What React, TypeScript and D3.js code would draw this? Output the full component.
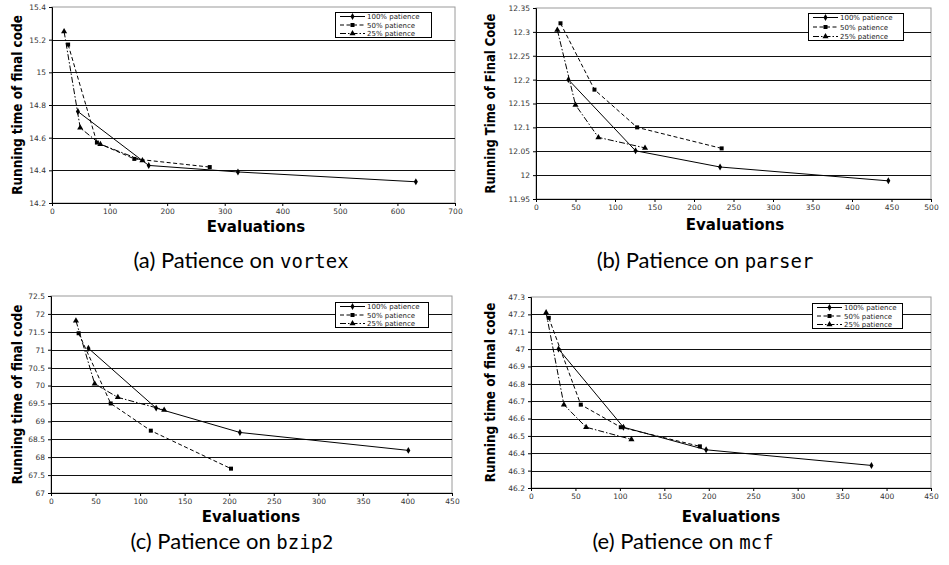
import React, { useEffect, useRef } from 'react'
import * as d3 from 'd3'

type Pt = [number, number]

const seriesNames = ['100% patience', '50% patience', '25% patience']

// (a) vortex
const vortex100: Pt[] = [[45, 14.76], [168, 14.43], [323, 14.39], [632, 14.33]]
const vortex50: Pt[] = [[28, 15.17], [78, 14.57], [143, 14.47], [274, 14.42]]
const vortex25: Pt[] = [[21, 15.25], [49, 14.66], [84, 14.56], [157, 14.46]]
const vortexX = [0, 100, 200, 300, 400, 500, 600, 700]
const vortexY = [14.2, 14.4, 14.6, 14.8, 15, 15.2, 15.4]

// (b) parser
const parser100: Pt[] = [[41, 12.2], [126, 12.051], [233, 12.017], [446, 11.988]]
const parser50: Pt[] = [[31, 12.318], [74, 12.179], [128, 12.1], [235, 12.056]]
const parser25: Pt[] = [[27, 12.304], [50, 12.147], [79, 12.079], [138, 12.057]]
const parserX = [0, 50, 100, 150, 200, 250, 300, 350, 400, 450, 500]
const parserY = [11.95, 12, 12.05, 12.1, 12.15, 12.2, 12.25, 12.3, 12.35]

// (c) bzip2
const bzip100: Pt[] = [[42, 71.04], [118, 69.37], [212, 68.69], [401, 68.19]]
const bzip50: Pt[] = [[31, 71.46], [67, 69.5], [112, 68.74], [202, 67.68]]
const bzip25: Pt[] = [[28, 71.81], [49, 70.05], [75, 69.67], [127, 69.32]]
const bzipX = [0, 50, 100, 150, 200, 250, 300, 350, 400, 450]
const bzipY = [67, 67.5, 68, 68.5, 69, 69.5, 70, 70.5, 71, 71.5, 72, 72.5]

// (e) mcf
const mcf100: Pt[] = [[31, 47.0], [104, 46.55], [197, 46.42], [383, 46.33]]
const mcf50: Pt[] = [[20, 47.18], [56, 46.68], [101, 46.55], [190, 46.44]]
const mcf25: Pt[] = [[17, 47.21], [37, 46.68], [62, 46.55], [113, 46.48]]
const mcfX = [0, 50, 100, 150, 200, 250, 300, 350, 400, 450]
const mcfY = [46.2, 46.3, 46.4, 46.5, 46.6, 46.7, 46.8, 46.9, 47, 47.1, 47.2, 47.3]

const panels = [
  {
    data: [vortex100, vortex50, vortex25], xt: vortexX, yt: vortexY,
    box: [52, 7, 455, 203], legend: [335, 12, 96, 25],
    ylabel: 'Running time of final code', ylx: 15,
    evalX: 256, evalY: 232, capX: 241, capY: 268, cap: '(a) Patience on ', prog: 'vortex',
  },
  {
    data: [parser100, parser50, parser25], xt: parserX, yt: parserY,
    box: [536, 8, 931, 199], legend: [808, 13, 95, 27],
    ylabel: 'Running Time of Final Code', ylx: 488,
    evalX: 735, evalY: 230, capX: 705, capY: 268, cap: '(b) Patience on ', prog: 'parser',
  },
  {
    data: [bzip100, bzip50, bzip25], xt: bzipX, yt: bzipY,
    box: [51, 296, 452, 493], legend: [335, 302, 93, 25],
    ylabel: 'Running time of final code', ylx: 15,
    evalX: 251, evalY: 522, capX: 232, capY: 549, cap: '(c) Patience on ', prog: 'bzip2',
  },
  {
    data: [mcf100, mcf50, mcf25], xt: mcfX, yt: mcfY,
    box: [531, 297, 931, 488], legend: [812, 303, 90, 25],
    ylabel: 'Running time of final code', ylx: 488,
    evalX: 731, evalY: 522, capX: 683, capY: 549, cap: '(e) Patience on ', prog: 'mcf',
  },
]

const dashes = [null, '4,2.5', '6,2,1.5,2']
const symbols = [d3.symbolDiamond, d3.symbolSquare, d3.symbolTriangle]
const symSizes = [14, 16, 16]

export default function App(): React.ReactElement {
  const ref = useRef<HTMLDivElement>(null)

  useEffect(() => {
    d3.select(ref.current).select('svg').remove()
    const svg = d3
      .select(ref.current)
      .append('svg')
      .attr('width', 949)
      .attr('height', 565)
      .attr('style', 'position:absolute;left:0;top:0;background:#fff')

    panels.forEach((p) => {
      const [l, t, r, b] = p.box
      const x = d3.scaleLinear().domain([p.xt[0], p.xt[p.xt.length - 1]]).range([l, r])
      const y = d3.scaleLinear().domain([p.yt[0], p.yt[p.yt.length - 1]]).range([b, t])
      const g = svg.append('g')

      // plot border
      g.append('rect').attr('x', l).attr('y', t).attr('width', r - l).attr('height', b - t)
        .attr('fill', '#fff').attr('stroke', '#9a9a9a').attr('stroke-width', 1)

      // gridlines
      g.append('g').selectAll('line').data(p.yt.slice(1, -1)).join('line')
        .attr('x1', l).attr('x2', r)
        .attr('y1', (d) => Math.round(y(d)) + 0.5).attr('y2', (d) => Math.round(y(d)) + 0.5)
        .attr('stroke', '#111').attr('stroke-width', 1)

      // axes
      const ya = g.append('g').attr('transform', `translate(${l},0)`)
        .call(d3.axisLeft(y).tickValues(p.yt).tickSize(3).tickPadding(3).tickFormat((d) => String(+(+d).toFixed(2))))
      const xa = g.append('g').attr('transform', `translate(0,${b})`)
        .call(d3.axisBottom(x).tickValues(p.xt).tickSize(3).tickPadding(3).tickFormat((d) => String(d)))
      ;[ya, xa].forEach((a) => {
        a.selectAll('text').attr('font-family', 'DejaVu Sans, sans-serif').attr('font-size', 7.5).attr('fill', '#333')
        a.select('.domain').attr('stroke', '#000')
        a.selectAll('line').attr('stroke', '#000')
      })

      // series
      p.data.forEach((pts, i) => {
        const line = d3.line<Pt>().x((d) => x(d[0])).y((d) => y(d[1]))
        g.append('path').attr('d', line(pts)).attr('fill', 'none').attr('stroke', '#000')
          .attr('stroke-width', 1).attr('stroke-dasharray', dashes[i])
        g.append('g').selectAll('path').data(pts).join('path')
          .attr('transform', (d) => `translate(${x(d[0])},${y(d[1])})`)
          .attr('d', d3.symbol(symbols[i], symSizes[i])())
          .attr('fill', '#000')
      })

      // legend
      const [lx, ly, lw, lh] = p.legend
      const lg = g.append('g')
      lg.append('rect').attr('x', lx + 0.5).attr('y', ly + 0.5).attr('width', lw).attr('height', lh)
        .attr('fill', '#fff').attr('stroke', '#000')
      seriesNames.forEach((name, i) => {
        const cy = ly + 4.5 + (i * (lh - 8)) / 2
        lg.append('line').attr('x1', lx + 5).attr('x2', lx + 30).attr('y1', cy).attr('y2', cy)
          .attr('stroke', '#000').attr('stroke-dasharray', dashes[i])
        lg.append('path').attr('transform', `translate(${lx + 17.5},${cy})`)
          .attr('d', d3.symbol(symbols[i], symSizes[i])()).attr('fill', '#000')
        lg.append('text').attr('x', lx + 32).attr('y', cy + 2.5).text(name)
          .attr('font-family', 'DejaVu Sans, sans-serif').attr('font-size', 7).attr('fill', '#222')
      })

      // axis titles (squeezed along their length to match the original's narrow bold face)
      const cy = (t + b) / 2
      const yl = g.append('text')
        .attr('text-anchor', 'middle').attr('font-family', 'DejaVu Sans, sans-serif')
        .attr('font-weight', 'bold').attr('font-size', 13.5)
        .text(p.ylabel)
      const ylen = (yl.node() as SVGTextElement).getComputedTextLength() || 180
      yl.attr('transform', `translate(${p.ylx + 7},${cy}) rotate(-90) scale(${Math.min(1, 180 / ylen)},1)`)

      const el = g.append('text').attr('text-anchor', 'middle')
        .attr('font-family', 'DejaVu Sans, sans-serif').attr('font-weight', 'bold').attr('font-size', 15)
        .text('Evaluations')
      const elen = (el.node() as SVGTextElement).getComputedTextLength() || 103
      el.attr('transform', `translate(${p.evalX},${p.evalY}) scale(${Math.min(1, 103 / elen)},1)`)

      // caption
      const cap = svg.append('text').attr('x', p.capX).attr('y', p.capY).attr('text-anchor', 'middle')
        .attr('font-size', 22).attr('font-family', 'Lato, sans-serif').attr('fill', '#000')
      cap.append('tspan').text(p.cap)
      cap.append('tspan').attr('font-family', 'DejaVu Sans Mono, monospace').attr('font-size', 19).text(p.prog)
    })
  }, [])

  return <div ref={ref}></div>
}
